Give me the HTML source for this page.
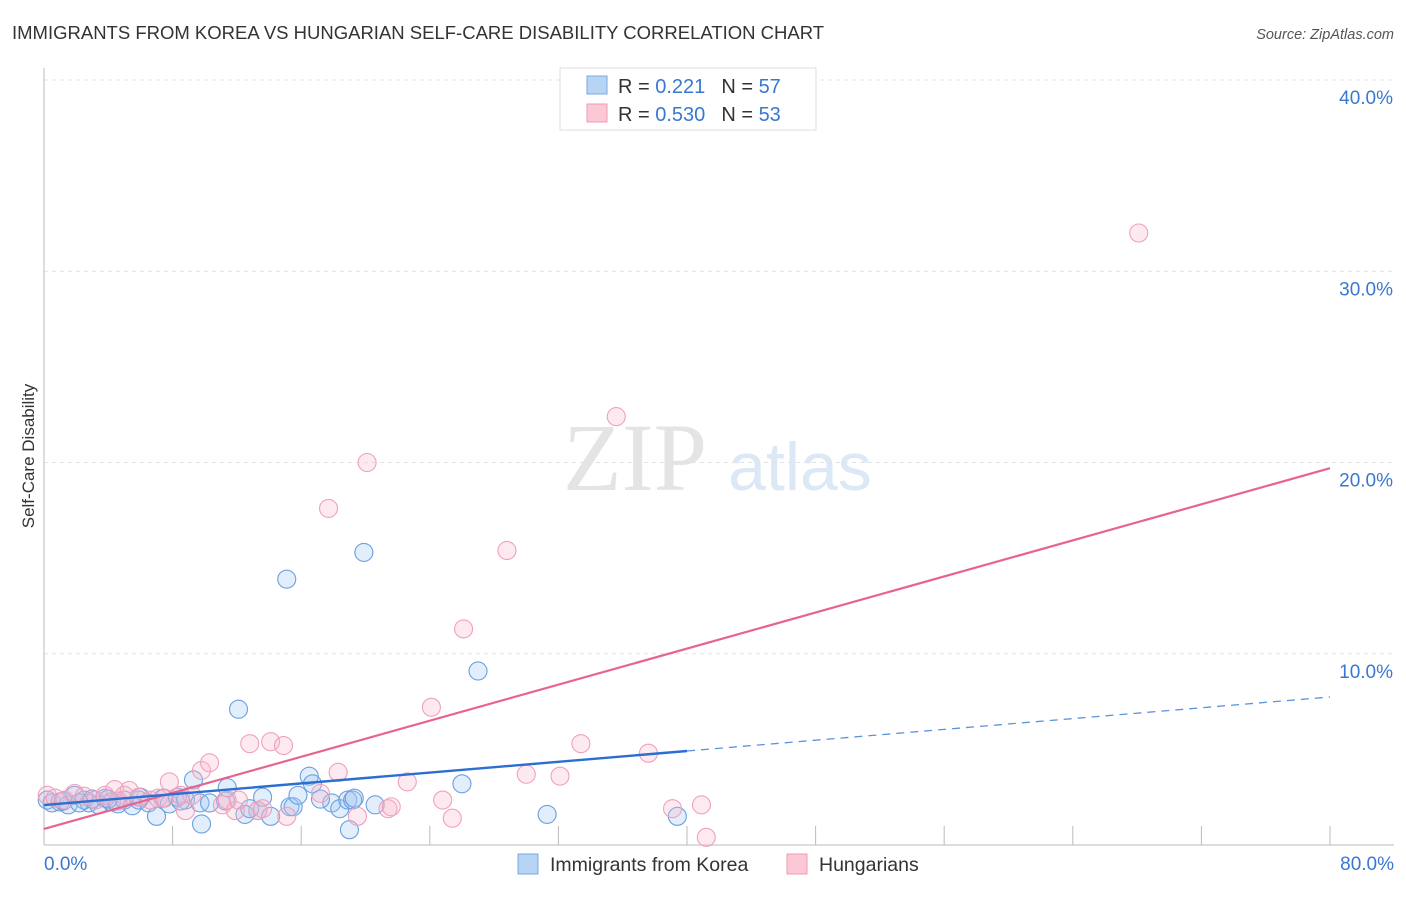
<!DOCTYPE html>
<html><head><meta charset="utf-8"><style>
body{margin:0;background:#fff;font-family:"Liberation Sans",sans-serif}
</style></head><body>
<svg id="c" width="1406" height="892" xmlns="http://www.w3.org/2000/svg" style="font-family:'Liberation Sans',sans-serif">
<text x="12" y="39" font-size="18.5" fill="#333">IMMIGRANTS FROM KOREA VS HUNGARIAN SELF-CARE DISABILITY CORRELATION CHART</text>
<text x="1394" y="39" font-size="14.5" fill="#555" text-anchor="end" font-style="italic">Source: ZipAtlas.com</text>
<text x="34" y="456" font-size="17" fill="#333" text-anchor="middle" transform="rotate(-90 34 456)">Self-Care Disability</text>
<text x="635" y="490" font-size="96" fill="#e4e4e4" text-anchor="middle" font-family="Liberation Serif">ZIP</text>
<text x="800" y="490" font-size="68" fill="#dce8f6" text-anchor="middle">atlas</text>
<g id="grid"></g><g id="pts"></g><g id="lines"></g>
<g>
<rect x="560" y="68" width="256" height="62" fill="#fff" stroke="#ddd"/>
<rect x="587" y="76" width="20" height="18" fill="#b8d4f5" stroke="#7aa8e0"/>
<rect x="587" y="104" width="20" height="18" fill="#fbc8d6" stroke="#f09ab4"/>
<text x="618" y="93" font-size="20" fill="#333">R = <tspan fill="#3a78d0"> 0.221</tspan><tspan dx="16">N = </tspan><tspan fill="#3a78d0">57</tspan></text>
<text x="618" y="121" font-size="20" fill="#333">R = <tspan fill="#3a78d0">0.530</tspan><tspan dx="16">N = </tspan><tspan fill="#3a78d0">53</tspan></text>
</g>
<g>
<rect x="518" y="854" width="20" height="20" fill="#b8d4f5" stroke="#7aa8e0"/>
<text x="550" y="871" font-size="19.5" fill="#333">Immigrants from Korea</text>
<rect x="787" y="854" width="20" height="20" fill="#fbc8d6" stroke="#f09ab4"/>
<text x="819" y="871" font-size="19.5" fill="#333">Hungarians</text>
</g>
</svg>
<script>
const yTicks=[10,20,30,40];
const xTickLabels=["0.0%","80.0%"];
const koreaX=[0.2,0.5,1,1.5,1.9,2.5,2.8,3.4,3.8,4.2,4.6,5,5.5,5.9,6.5,7,7.4,7.8,8.3,8.8,9.3,9.7,9.8,10.3,11.3,11.4,12.1,12.5,13.3,13.6,14.1,15.1,15.3,15.5,15.8,16.5,16.7,17.9,18.4,18.9,19.2,19,19.3,19.9,20.6,26,27,31.3,39.4,17.2,8.5,6,3,1.2,2.2,4,12.8];
const koreaY=[2.35,2.2,2.25,2.1,2.6,2.35,2.2,2.1,2.45,2.25,2.15,2.35,2.05,2.35,2.2,1.5,2.45,2.15,2.5,2.35,3.4,2.2,1.1,2.2,2.3,3.0,7.1,1.6,1.8,2.5,1.5,13.9,2.0,2.0,2.6,3.6,3.2,2.2,1.9,2.35,2.35,0.8,2.45,15.3,2.1,3.2,9.1,1.6,1.5,2.4,2.3,2.5,2.4,2.3,2.2,2.4,1.9];
const hungX=[0.2,0.7,1.3,1.9,2.5,3.2,3.8,4.4,5,5.3,5.9,6.6,7.1,7.5,7.8,8.5,8.8,9.2,9.8,10.3,11.1,11.4,11.9,12.1,12.8,13.3,13.6,14.1,14.9,15.1,17.2,17.7,18.3,19.5,20.1,21.4,21.6,22.6,24.1,24.8,25.4,26.1,28.8,30,32.1,33.4,35.6,37.6,39.1,40.9,41.2,68.1,4.6];
const hungY=[2.6,2.45,2.35,2.7,2.55,2.35,2.6,2.9,2.6,2.85,2.5,2.35,2.45,2.45,3.3,2.6,1.8,2.6,3.9,4.3,2.1,2.35,1.8,2.35,5.3,1.8,1.9,5.4,5.2,1.5,2.7,17.6,3.8,1.5,20,1.9,2.0,3.3,7.2,2.35,1.4,11.3,15.4,3.7,3.6,5.3,22.4,4.8,1.9,2.1,0.4,32,2.3];
const pinkTrend=[0.84,19.7];
const blueTrend=[2.09,7.74];
const NS="http://www.w3.org/2000/svg";
const X=v=>44+v*16.075, Y=v=>845-v*19.125;
function mk(t,a,p){const e=document.createElementNS(NS,t);for(const k in a)e.setAttribute(k,a[k]);p.appendChild(e);return e;}
const g=document.getElementById('grid');
yTicks.forEach(t=>{const l=mk('line',{x1:44,x2:1394,y1:Y(t),y2:Y(t),stroke:'#e2e2e2','stroke-dasharray':'4 4'},g);


const tx=mk('text',{x:1393,y:Y(t)+24,'font-size':19,fill:'#3a78d0','text-anchor':'end'},g);tx.textContent=t.toFixed(1)+'%';

});
const ax=mk('line',{x1:44,x2:44,y1:68,y2:845,stroke:'#bbb'},g);


const bx=mk('line',{x1:44,x2:1394,y1:845,y2:845,stroke:'#bbb'},g);


for(let i=1;i<=10;i++){const t=mk('line',{x1:X(i*8),x2:X(i*8),y1:826,y2:845,stroke:'#bbb'},g);

}
[[0,'start',44],[80,'end',1394]].forEach((d,i)=>{const t=mk('text',{x:d[2],y:870,'font-size':19,fill:'#3a78d0','text-anchor':d[1]},g);t.textContent=xTickLabels[i];

});
const p=document.getElementById('pts');
koreaX.forEach((v,i)=>{const c=mk('circle',{cx:X(v),cy:Y(koreaY[i]),r:9,fill:'rgba(160,198,243,0.3)',stroke:'#6a9fe0','stroke-width':1.1},p);

});
hungX.forEach((v,i)=>{const c=mk('circle',{cx:X(v),cy:Y(hungY[i]),r:9,fill:'rgba(250,185,205,0.3)',stroke:'#f0a0bb','stroke-width':1.1},p);

});
const L=document.getElementById('lines');
const pl=mk('line',{x1:X(0),y1:Y(pinkTrend[0]),x2:X(80),y2:Y(pinkTrend[1]),stroke:'#e8648f','stroke-width':2.2},L);


const bm=blueTrend[0]+(blueTrend[1]-blueTrend[0])*0.5;
const b1=mk('line',{x1:X(0),y1:Y(blueTrend[0]),x2:X(40),y2:Y(bm),stroke:'#2a6fd1','stroke-width':2.4},L);


const b2=mk('line',{x1:X(40),y1:Y(bm),x2:X(80),y2:Y(blueTrend[1]),stroke:'#5b93dc','stroke-width':1.3,'stroke-dasharray':'8 6'},L);


</script>
</body></html>
